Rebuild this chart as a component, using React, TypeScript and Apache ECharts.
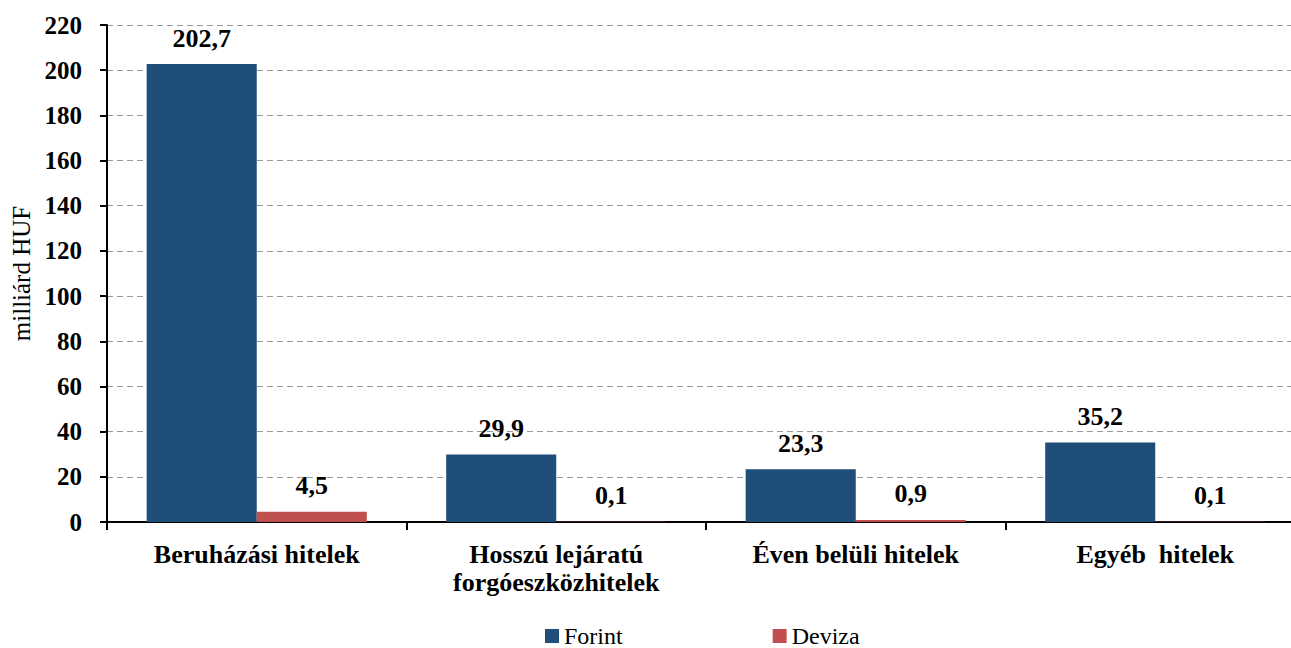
import React, { useEffect, useRef } from "react";
import * as echarts from "echarts";

const categories = ["Beruházási hitelek", "Hosszú lejáratú\nforgóeszközhitelek", "Éven belüli hitelek", "Egyéb  hitelek"];
const forint = [202.7, 29.9, 23.3, 35.2];
const deviza = [4.5, 0.1, 0.9, 0.1];
const seriesNames = ["Forint", "Deviza"];

const FONT = "Liberation Serif";
const fmt = (v: number) => v.toFixed(1).replace(".", ",");

export default function App() {
  const ref = useRef<HTMLDivElement>(null);
  useEffect(() => {
    if (!ref.current) return;
    const chart = echarts.init(ref.current, null, { renderer: "svg" });
    const label = {
      show: true,
      position: "top" as const,
      distance: 13,
      formatter: (p: any) => fmt(p.value),
      fontFamily: FONT,
      fontWeight: "bold" as const,
      fontSize: 26,
      color: "#000",
    };
    chart.setOption({
      animation: false,
      textStyle: { fontFamily: FONT },
      grid: {
        left: 107,
        top: 25,
        width: 1198,
        height: 497,
        containLabel: false,
        outerBoundsMode: "none",
      },
      legend: {
        data: seriesNames,
        left: 545,
        top: 624,
        padding: 0,
        itemWidth: 14,
        itemHeight: 14,
        itemGap: 150,
        icon: "rect",
        textStyle: { fontFamily: FONT, fontSize: 24, lineHeight: 24, color: "#000" },
      },
      xAxis: {
        type: "category",
        data: categories,
        axisLine: { lineStyle: { color: "#000", width: 2 } },
        axisTick: { show: true, length: 8, lineStyle: { color: "#000", width: 2 } },
        axisLabel: {
          margin: 18,
          fontFamily: FONT,
          fontWeight: "bold",
          fontSize: 26,
          lineHeight: 28,
          color: "#000",
        },
      },
      yAxis: {
        type: "value",
        min: 0,
        max: 220,
        interval: 20,
        name: "milliárd HUF",
        nameLocation: "middle",
        nameGap: 70,
        nameTextStyle: { fontFamily: FONT, fontSize: 25, color: "#000" },
        axisLine: { show: true, lineStyle: { color: "#000", width: 2 } },
        axisTick: { show: true, length: 7, lineStyle: { color: "#000", width: 2 } },
        axisLabel: {
          margin: 25,
          fontFamily: FONT,
          fontWeight: "bold",
          fontSize: 25,
          color: "#000",
        },
        splitLine: { lineStyle: { color: "#999", type: [6, 4], width: 1 } },
      },
      series: [
        {
          name: seriesNames[0],
          type: "bar",
          data: forint,
          barGap: "0%",
          barCategoryGap: "26.5%",
          itemStyle: { color: "#1F4E79" },
          label,
        },
        {
          name: seriesNames[1],
          type: "bar",
          data: deviza,
          itemStyle: { color: "#C0504D" },
          label,
        },
      ],
    });
    return () => chart.dispose();
  }, []);
  return (
    <div style={{ position: "fixed", left: 0, top: 0, width: 1291, height: 648, overflow: "hidden", background: "#fff" }}>
      <div ref={ref} style={{ width: 1320, height: 648 }} />
    </div>
  );
}
